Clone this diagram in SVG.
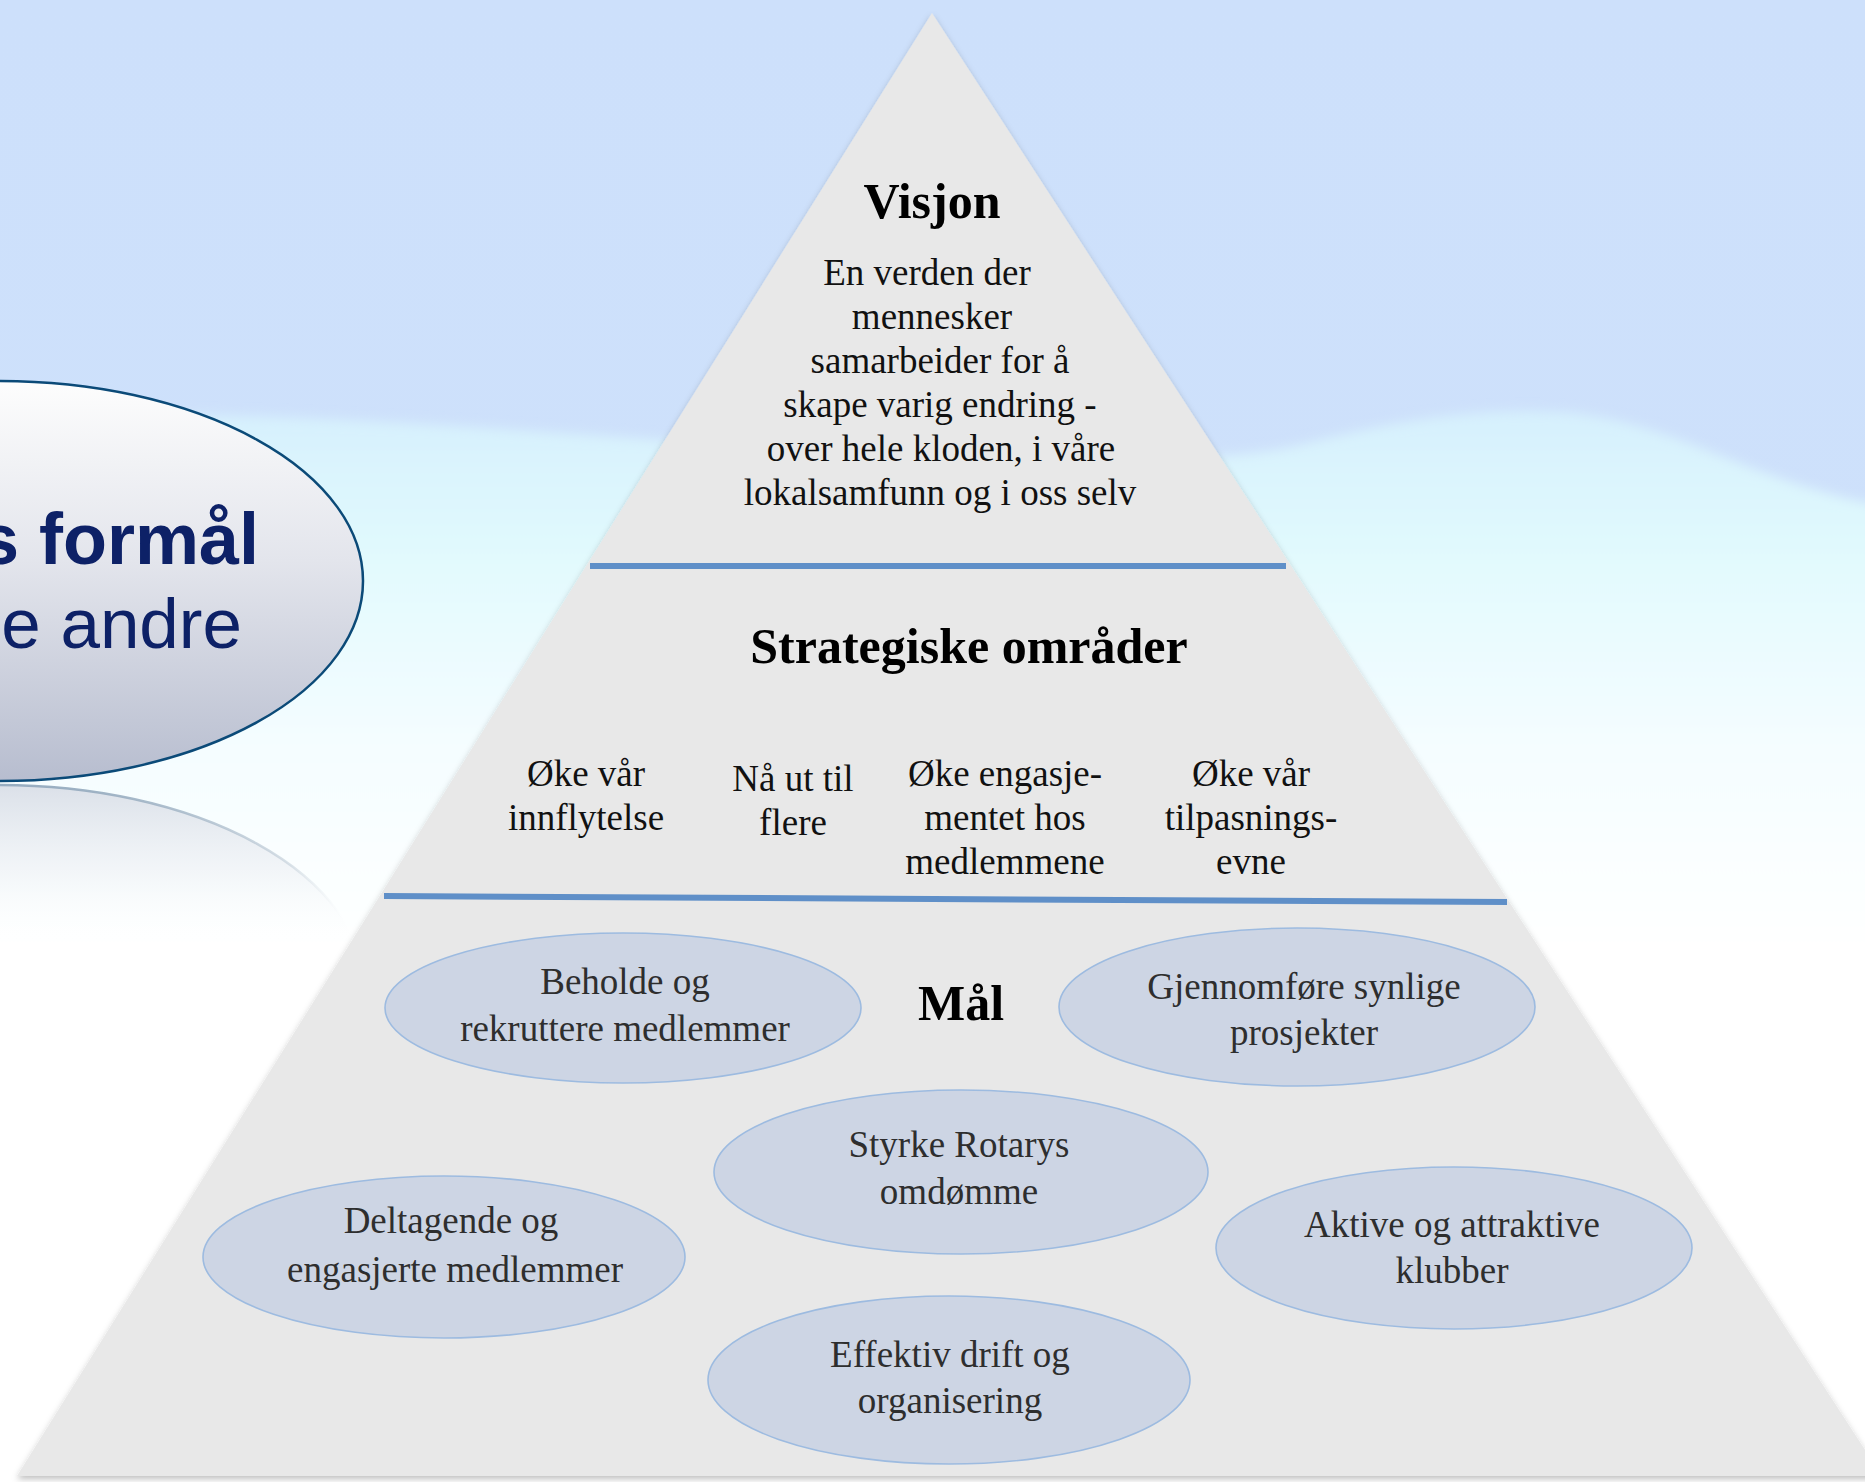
<svg xmlns="http://www.w3.org/2000/svg" width="1865" height="1482" viewBox="0 0 1865 1482">
<defs>
<style>
.t{font-family:"Liberation Serif","Times New Roman",serif;font-size:37px;fill:#111;text-anchor:middle}
.h{font-family:"Liberation Serif","Times New Roman",serif;font-size:50px;font-weight:bold;fill:#000;text-anchor:middle}
.g{font-family:"Liberation Serif","Times New Roman",serif;font-size:37px;fill:#2e2e2e;text-anchor:middle}
.goal{fill:#cdd5e4;stroke:#9dbbe0;stroke-width:1.6}
.sep{stroke:#5f8fc8;stroke-width:6;fill:none}
.lt{font-family:"Liberation Sans",Arial,sans-serif;fill:#0d2167;text-anchor:end}
</style>
<linearGradient id="sky" x1="0" y1="0" x2="0" y2="1">
<stop offset="0" stop-color="#cde0fb"/>
<stop offset="1" stop-color="#cfe2fb"/>
</linearGradient>
<linearGradient id="wave" x1="0" y1="0" x2="0" y2="1">
<stop offset="0" stop-color="#d6f0fd"/>
<stop offset="0.12" stop-color="#e0f9fd"/>
<stop offset="0.3" stop-color="#f4fdff"/>
<stop offset="0.5" stop-color="#ffffff"/>
<stop offset="1" stop-color="#ffffff"/>
</linearGradient>
<linearGradient id="oval" x1="0" y1="0" x2="0" y2="1">
<stop offset="0" stop-color="#fdfdfd"/>
<stop offset="0.45" stop-color="#e3e5ec"/>
<stop offset="1" stop-color="#b7bdcf"/>
</linearGradient>
<linearGradient id="refl" x1="0" y1="0" x2="0" y2="1">
<stop offset="0" stop-color="#d8dde6" stop-opacity="0.9"/>
<stop offset="0.45" stop-color="#eef1f5" stop-opacity="0.6"/>
<stop offset="0.8" stop-color="#ffffff" stop-opacity="0"/>
</linearGradient>
<linearGradient id="reflStroke" x1="0" y1="0" x2="0" y2="1">
<stop offset="0" stop-color="#8fa6bb" stop-opacity="0.9"/>
<stop offset="0.4" stop-color="#b8c6d2" stop-opacity="0.5"/>
<stop offset="0.7" stop-color="#ffffff" stop-opacity="0"/>
</linearGradient>
<filter id="soft" x="-5%" y="-20%" width="110%" height="140%">
<feGaussianBlur stdDeviation="6"/>
</filter>
<filter id="shadow" x="-5%" y="-5%" width="110%" height="110%">
<feDropShadow dx="0" dy="3" stdDeviation="3" flood-color="#000" flood-opacity="0.25"/>
</filter>
</defs>

<!-- background -->
<rect x="0" y="0" width="1865" height="1482" fill="url(#sky)"/>
<path d="M-20,420 C 250,400 600,440 900,455 C 1100,462 1230,462 1300,445 C 1400,420 1470,408 1560,412 C 1650,418 1720,460 1800,485 C 1840,497 1860,503 1890,506 L 1890,1500 L -20,1500 Z" fill="url(#wave)" filter="url(#soft)"/>

<!-- left oval -->
<g id="purpose-oval">
<path d="M0,985 m-363,0 a363,200 0 1,1 726,0" fill="url(#refl)" stroke="url(#reflStroke)" stroke-width="2.5"/>
<ellipse cx="0" cy="581" rx="363" ry="200" fill="url(#oval)" stroke="#0b4a78" stroke-width="2.5"/>
<text class="lt" x="259" y="564" font-size="72" font-weight="bold">s formål</text>
<text class="lt" x="242" y="648" font-size="71">e andre</text>
</g>

<!-- pyramid -->
<g id="pyramid">
<polygon points="932,13 17,1476 1882,1476" fill="#e8e8e8" filter="url(#shadow)"/>
</g>

<g id="connectors">
<line class="sep" x1="590" y1="566" x2="1286" y2="566"/>
<line class="sep" x1="384" y1="896" x2="1507" y2="902"/>
</g>

<g id="vision">
<text class="h" x="932" y="218" font-size="49">Visjon</text>
<text class="t" x="927" y="285">En verden der</text>
<text class="t" x="932" y="329">mennesker</text>
<text class="t" x="940" y="373">samarbeider for å</text>
<text class="t" x="940" y="417">skape varig endring -</text>
<text class="t" x="941" y="461">over hele kloden, i våre</text>
<text class="t" x="940" y="505">lokalsamfunn og i oss selv</text>
</g>

<g id="strategic">
<text class="h" x="969" y="663">Strategiske områder</text>
</g>
<g id="area1">
<text class="t" x="586" y="786">Øke vår</text>
<text class="t" x="586" y="830">innflytelse</text>
</g>
<g id="area2">
<text class="t" x="793" y="791">Nå ut til</text>
<text class="t" x="793" y="835">flere</text>
</g>
<g id="area3">
<text class="t" x="1005" y="786">Øke engasje-</text>
<text class="t" x="1005" y="830">mentet hos</text>
<text class="t" x="1005" y="874">medlemmene</text>
</g>
<g id="area4">
<text class="t" x="1251" y="786">Øke vår</text>
<text class="t" x="1251" y="830">tilpasnings-</text>
<text class="t" x="1251" y="874">evne</text>
</g>

<g id="goals-title">
<text class="h" x="961" y="1020">Mål</text>
</g>

<g id="goal1">
<ellipse class="goal" cx="623" cy="1008" rx="238" ry="75"/>
<text class="g" x="625" y="994">Beholde og</text>
<text class="g" x="625" y="1041">rekruttere medlemmer</text>
</g>
<g id="goal2">
<ellipse class="goal" cx="1297" cy="1007" rx="238" ry="79"/>
<text class="g" x="1304" y="999">Gjennomføre synlige</text>
<text class="g" x="1304" y="1045">prosjekter</text>
</g>
<g id="goal3">
<ellipse class="goal" cx="961" cy="1172" rx="247" ry="82"/>
<text class="g" x="959" y="1157">Styrke Rotarys</text>
<text class="g" x="959" y="1204">omdømme</text>
</g>
<g id="goal4">
<ellipse class="goal" cx="444" cy="1257" rx="241" ry="81"/>
<text class="g" x="451" y="1233">Deltagende og</text>
<text class="g" x="455" y="1282">engasjerte medlemmer</text>
</g>
<g id="goal5">
<ellipse class="goal" cx="1454" cy="1248" rx="238" ry="81"/>
<text class="g" x="1452" y="1237">Aktive og attraktive</text>
<text class="g" x="1452" y="1283">klubber</text>
</g>
<g id="goal6">
<ellipse class="goal" cx="949" cy="1380" rx="241" ry="84"/>
<text class="g" x="950" y="1367">Effektiv drift og</text>
<text class="g" x="950" y="1413">organisering</text>
</g>
</svg>
